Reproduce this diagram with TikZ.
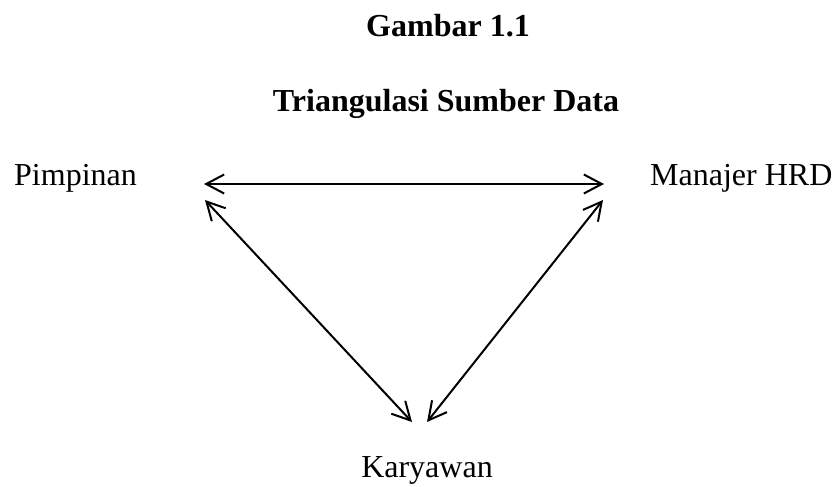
\documentclass[tikz,border=0pt]{standalone}
\usepackage{fontspec}
\setmainfont{Liberation Serif}
\usetikzlibrary{arrows.meta}
\begin{document}
\begin{tikzpicture}[x=1pt,y=-1pt,
  lbl/.style={inner sep=0pt,font=\fontsize{32}{38}\selectfont},
  ttl/.style={inner sep=0pt,font=\fontsize{32}{38}\selectfont\bfseries,anchor=base},
  dbl/.style={line width=2pt,{Straight Barb[length=18pt,width=19pt,line width=2pt]}-{Straight Barb[length=18pt,width=19pt,line width=2pt]}}]
\useasboundingbox (0,0) rectangle (835,487);
\fill[white] (0,0) rectangle (835,487);
\node[ttl] (t1) at (448,37) {Gambar 1.1};
\node[ttl] (t2) at (446,111) {Triangulasi Sumber Data};
\node[lbl,anchor=base west] (pim) at (14,185) {Pimpinan};
\node[lbl,anchor=base west] (man) at (650,185) {Manajer HRD};
\node[lbl,anchor=base] (kar) at (427,477) {Karyawan};
\coordinate (pimR) at (204,184);
\coordinate (manL) at (604,184);
\coordinate (pimD) at (205,200);
\coordinate (manD) at (603,200);
\coordinate (karL) at (412,422);
\coordinate (karR) at (427,422);
\draw[dbl] (pimR) -- (manL);
\draw[dbl] (pimD) -- (karL);
\draw[dbl] (manD) -- (karR);
\end{tikzpicture}
\end{document}
